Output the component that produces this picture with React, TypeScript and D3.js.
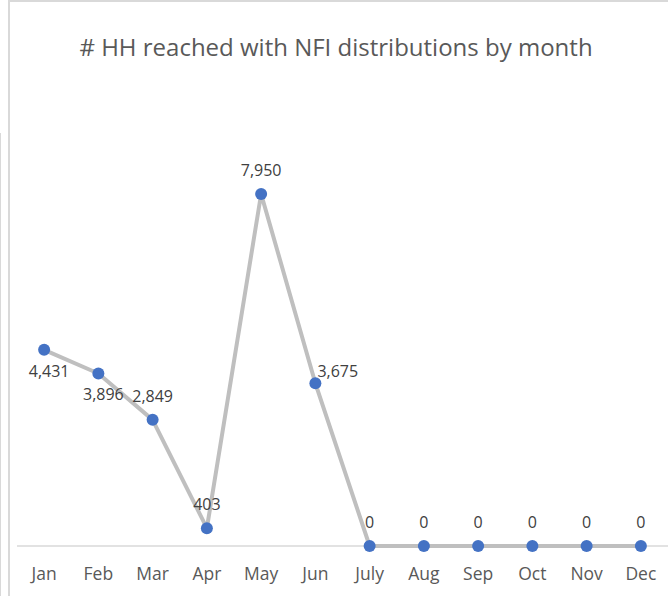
import React, { useEffect, useRef } from 'react';
import * as d3 from 'd3';

const months: string[] = ['Jan', 'Feb', 'Mar', 'Apr', 'May', 'Jun', 'July', 'Aug', 'Sep', 'Oct', 'Nov', 'Dec'];
const households: number[] = [4431, 3896, 2849, 403, 7950, 3675, 0, 0, 0, 0, 0, 0];
// where Excel put each data label
const labelPlacement: string[] = ['below', 'below', 'above', 'above', 'above', 'right', 'above', 'above', 'above', 'above', 'above', 'above'];
const title = '# HH reached with NFI distributions by month';

const W = 668;
const H = 596;
const FONT = '"Open Sans", sans-serif';

const App = () => {
  const ref = useRef<SVGSVGElement>(null);

  useEffect(() => {
    const svg = d3.select(ref.current);
    svg.selectAll('*').remove();

    // chart frame (partly cropped in the screenshot)
    svg.append('line')
      .attr('x1', 9).attr('x2', W).attr('y1', 1).attr('y2', 1)
      .attr('stroke', '#d9d9d9').attr('stroke-width', 2);
    svg.append('line')
      .attr('x1', 9).attr('x2', 9).attr('y1', 0).attr('y2', H)
      .attr('stroke', '#d9d9d9').attr('stroke-width', 2);
    svg.append('line')
      .attr('x1', 0.5).attr('x2', 0.5).attr('y1', 133).attr('y2', H)
      .attr('stroke', '#d9d9d9').attr('stroke-width', 1);

    svg.append('text')
      .attr('x', 336).attr('y', 56)
      .attr('text-anchor', 'middle')
      .attr('font-family', FONT)
      .attr('font-size', 24)
      .attr('fill', '#595959')
      .text(title);

    const x = d3.scaleBand()
      .domain(months)
      .range([17, W]);

    const y = d3.scaleLinear()
      .domain([0, 7950])
      .range([546, 194]);

    const cx = (m: string) => (x(m) as number) + x.bandwidth() / 2;

    // category axis line
    svg.append('line')
      .attr('x1', 17).attr('x2', W)
      .attr('y1', y(0)).attr('y2', y(0))
      .attr('stroke', '#d9d9d9').attr('stroke-width', 1.5);

    svg.append('g')
      .selectAll('text')
      .data(months)
      .enter()
      .append('text')
      .attr('x', d => cx(d))
      .attr('y', 580)
      .attr('text-anchor', 'middle')
      .attr('font-family', FONT)
      .attr('font-size', 17.5)
      .attr('fill', '#595959')
      .text(d => d);

    const line = d3.line<number>()
      .x((_, i) => cx(months[i]))
      .y(d => y(d));

    svg.append('path')
      .datum(households)
      .attr('d', line)
      .attr('fill', 'none')
      .attr('stroke', '#bfbfbf')
      .attr('stroke-width', 4)
      .attr('stroke-linejoin', 'round');

    svg.append('g')
      .selectAll('circle')
      .data(households)
      .enter()
      .append('circle')
      .attr('cx', (_, i) => cx(months[i]))
      .attr('cy', d => y(d))
      .attr('r', 6)
      .attr('fill', '#4472c4');

    const fmt = d3.format(',');
    svg.append('g')
      .selectAll('text')
      .data(households)
      .enter()
      .append('text')
      .attr('x', (_, i) => {
        const p = labelPlacement[i];
        if (p === 'right') return cx(months[i]) + 2;
        if (p === 'below') return cx(months[i]) + 5;
        return cx(months[i]);
      })
      .attr('y', (d, i) => {
        const p = labelPlacement[i];
        if (p === 'below') return y(d) + 27;
        if (p === 'right') return y(d) - 6;
        return y(d) - 18;
      })
      .attr('text-anchor', (_, i) => labelPlacement[i] === 'right' ? 'start' : 'middle')
      .attr('font-family', FONT)
      .attr('font-size', 16)
      .attr('fill', '#404040')
      .text(d => fmt(d));
  }, []);

  return (
    <svg ref={ref} width={W} height={H}
      style={{ position: 'absolute', left: 0, top: 0, background: '#fff' }}></svg>
  );
};

export default App;
